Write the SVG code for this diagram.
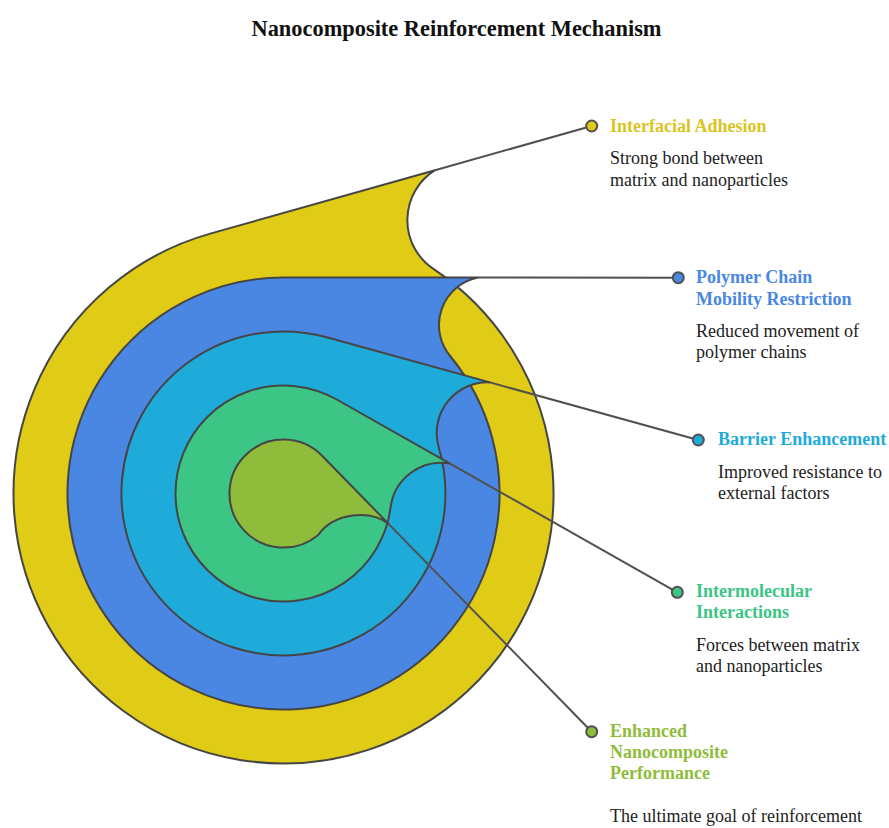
<svg xmlns="http://www.w3.org/2000/svg" width="889" height="828" viewBox="0 0 889 828">
<style>
.shape{stroke:#454545;stroke-width:2;stroke-linejoin:round}
.conn{stroke:#505050;stroke-width:2;fill:none}
.dot{stroke:#505050;stroke-width:2}
.title{font-family:"Liberation Serif","Times New Roman",serif;font-weight:bold;font-size:22.4px;fill:#111}
.head{font-family:"Liberation Serif","Times New Roman",serif;font-weight:bold;font-size:18px}
.desc{font-family:"Liberation Serif","Times New Roman",serif;font-size:18px;fill:#222}
</style>
<rect width="889" height="828" fill="#fff"/>
<text class="title" x="456.5" y="36" text-anchor="middle">Nanocomposite Reinforcement Mechanism</text>

<g id="layer-interfacial">
<path class="shape" fill="#E0CB17" d="M210.3,233.6 L435,170.2 A58.8,58.8 0 0 0 433.4,268.9 A270,270 0 1 1 210.3,233.6 Z"/>
</g>
<g id="layer-polymer">
<path class="shape" fill="#4A87E3" d="M283.5,277.5 L478,277.5 A48.5,48.5 0 0 0 450.1,356 A216,216 0 1 1 283.5,277.5 Z"/>
</g>
<g id="layer-barrier">
<path class="shape" fill="#1EABD9" d="M326.7,337.3 L490,382.4 A50.8,50.8 0 0 0 438.6,446.9 A162,162 0 1 1 326.7,337.3 Z"/>
</g>
<g id="layer-intermolecular">
<path class="shape" fill="#3CC584" d="M336.7,399.5 L450,463.6 A51,51 0 0 0 390.6,507.4 A108,108 0 1 1 336.7,399.5 Z"/>
</g>
<g id="layer-performance">
<path class="shape" fill="#8FBC3B" d="M322.1,455.8 L388.3,523.6 C370,510 335,512 318.2,534.9 A54,54 0 1 1 322.1,455.8 Z"/>
</g>

<g id="connectors">
<line class="conn" x1="435" y1="170.2" x2="591.7" y2="126"/>
<line class="conn" x1="478" y1="277.5" x2="678.3" y2="277.7"/>
<line class="conn" x1="490" y1="382.4" x2="698.3" y2="440"/>
<line class="conn" x1="450" y1="463.6" x2="677.3" y2="592.3"/>
<line class="conn" x1="388.3" y1="523.6" x2="591.7" y2="731.7"/>
</g>

<g id="label-interfacial">
<circle class="dot" cx="591.7" cy="126" r="5.5" fill="#E0CB17"/>
<text class="head" x="610" y="131.7" fill="#D9C51C">Interfacial Adhesion</text>
<text class="desc" x="610" y="164.3">Strong bond between</text>
<text class="desc" x="610" y="185.5">matrix and nanoparticles</text>
</g>
<g id="label-polymer">
<circle class="dot" cx="678.3" cy="277.7" r="5.5" fill="#4A87E3"/>
<text class="head" x="696" y="283.3" fill="#4A87E3">Polymer Chain</text>
<text class="head" x="696" y="304.5" fill="#4A87E3">Mobility Restriction</text>
<text class="desc" x="696" y="336.7">Reduced movement of</text>
<text class="desc" x="696" y="358">polymer chains</text>
</g>
<g id="label-barrier">
<circle class="dot" cx="698.3" cy="440" r="5.5" fill="#1EABD9"/>
<text class="head" x="718" y="445.3" fill="#1EABD9">Barrier Enhancement</text>
<text class="desc" x="718" y="477.5">Improved resistance to</text>
<text class="desc" x="718" y="498.8">external factors</text>
</g>
<g id="label-intermolecular">
<circle class="dot" cx="677.3" cy="592.3" r="5.5" fill="#3CC584"/>
<text class="head" x="696" y="596.7" fill="#3CC584">Intermolecular</text>
<text class="head" x="696" y="618" fill="#3CC584">Interactions</text>
<text class="desc" x="696" y="650.7">Forces between matrix</text>
<text class="desc" x="696" y="672">and nanoparticles</text>
</g>
<g id="label-performance">
<circle class="dot" cx="591.7" cy="731.7" r="5.5" fill="#8FBC3B"/>
<text class="head" x="610" y="736.7" fill="#8FBC3B">Enhanced</text>
<text class="head" x="610" y="758" fill="#8FBC3B">Nanocomposite</text>
<text class="head" x="610" y="779.3" fill="#8FBC3B">Performance</text>
<text class="desc" x="610" y="821.7">The ultimate goal of reinforcement</text>
</g>
</svg>
